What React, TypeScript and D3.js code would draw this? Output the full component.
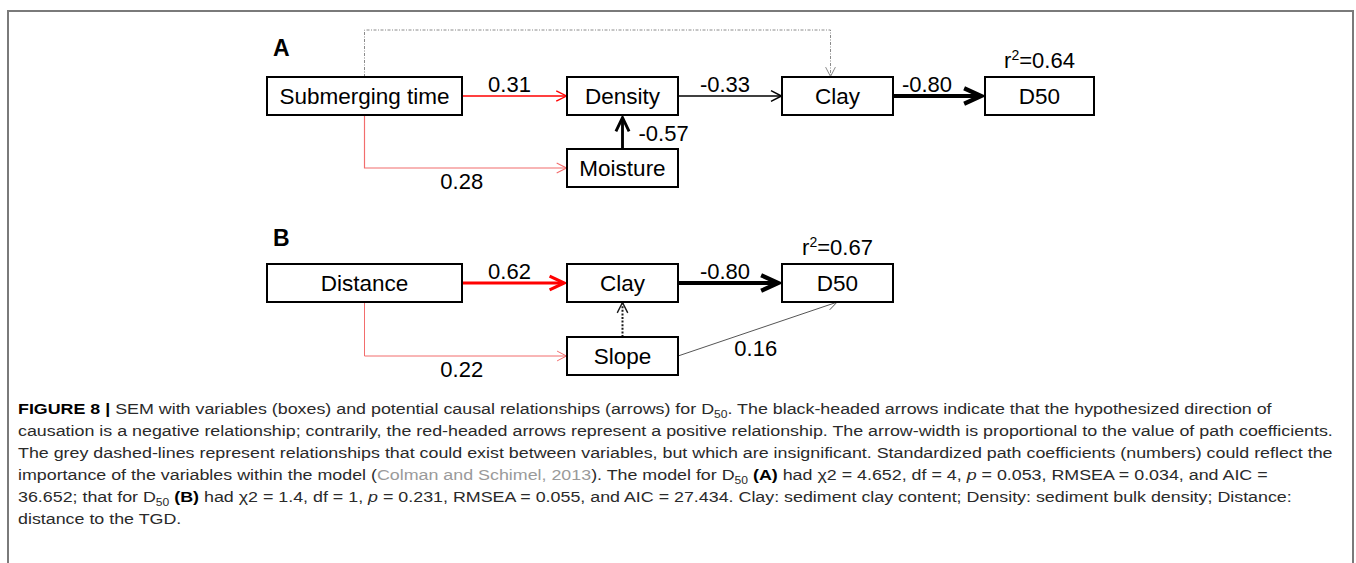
import React from "react";
import * as d3 from "d3";

// nodes of the two path models
const nodeIds = ["subA", "densA", "moisA", "clayA", "d50A", "distB", "clayB", "slopeB", "d50B"];
const nodeLabels = ["Submerging time", "Density", "Moisture", "Clay", "D50", "Distance", "Clay", "Slope", "D50"];
const nodePanels = ["A", "A", "A", "A", "A", "B", "B", "B", "B"];
const nodeCols = [0, 1, 1, 2, 3, 0, 1, 1, 2];
const nodeRows = [0, 0, 1, 0, 0, 0, 0, 1, 0];

// explained variance of D50
const r2Nodes = ["d50A", "d50B"];
const r2Values = [0.64, 0.67];

// paths (null = insignificant, drawn dashed)
const edgeFrom = ["subA", "subA", "moisA", "densA", "clayA", "subA", "distB", "distB", "slopeB", "clayB", "slopeB"];
const edgeTo = ["densA", "moisA", "densA", "clayA", "d50A", "clayA", "clayB", "slopeB", "clayB", "d50B", "d50B"];
const edgeCoef: (number | null)[] = [0.31, 0.28, -0.57, -0.33, -0.8, null, 0.62, 0.22, null, -0.8, 0.16];

const panelLabels = ["A", "B"];

// caption, one entry per printed line
type Seg = { t: string; b?: boolean; i?: boolean; sub?: boolean; grey?: boolean };
const captionLines: Seg[][] = [
  [
    { t: "FIGURE 8 | ", b: true },
    { t: "SEM with variables (boxes) and potential causal relationships (arrows) for D" },
    { t: "50", sub: true },
    { t: ". The black-headed arrows indicate that the hypothesized direction of" },
  ],
  [{ t: "causation is a negative relationship; contrarily, the red-headed arrows represent a positive relationship. The arrow-width is proportional to the value of path coefficients." }],
  [{ t: "The grey dashed-lines represent relationships that could exist between variables, but which are insignificant. Standardized path coefficients (numbers) could reflect the" }],
  [
    { t: "importance of the variables within the model (" },
    { t: "Colman and Schimel, 2013", grey: true },
    { t: "). The model for D" },
    { t: "50", sub: true },
    { t: " " },
    { t: "(A)", b: true },
    { t: " had χ2 = 4.652, df = 4, " },
    { t: "p", i: true },
    { t: " = 0.053, RMSEA = 0.034, and AIC =" },
  ],
  [
    { t: "36.652; that for D" },
    { t: "50", sub: true },
    { t: " " },
    { t: "(B)", b: true },
    { t: " had χ2 = 1.4, df = 1, " },
    { t: "p", i: true },
    { t: " = 0.231, RMSEA = 0.055, and AIC = 27.434. Clay: sediment clay content; Density: sediment bulk density; Distance:" },
  ],
  [{ t: "distance to the TGD." }],
];

export default function App() {
  const W = 1356;
  const H = 563;
  const boxH = 38;

  const colX = d3.scaleOrdinal<number, number>().domain([0, 1, 2, 3]).range([364.5, 622.5, 837.5, 1039.5]);
  const colW = d3.scaleOrdinal<number, number>().domain([0, 1, 2, 3]).range([195, 111, 111, 109]);
  const rowY = d3.scaleOrdinal<string, number>().domain(["A0", "A1", "B0", "B1"]).range([96, 168, 283, 356]);

  const widthScale = d3.scaleLinear().domain([0.25, 0.8]).range([1, 4.2]).clamp(true);
  const posColor = d3.scaleLinear<string>().domain([0.28, 0.31]).range(["#f26d6d", "#ff0000"]).clamp(true);

  const nodes = nodeIds.map((id, i) => {
    const cx = colX(nodeCols[i]);
    const cy = rowY(nodePanels[i] + nodeRows[i]);
    const w = colW(nodeCols[i]);
    return { id, label: nodeLabels[i], panel: nodePanels[i], cx, cy, w, x0: cx - w / 2, x1: cx + w / 2, y0: cy - boxH / 2, y1: cy + boxH / 2 };
  });
  const byId = new Map(nodes.map((n) => [n.id, n]));

  const line = d3.line();

  const edges = edgeFrom.map((f, i) => {
    const s = byId.get(f)!;
    const t = byId.get(edgeTo[i])!;
    const v = edgeCoef[i];
    let pts: [number, number][];
    let lab: [number, number] = [0, 0];
    let anchor = "middle";
    if (s.cy === t.cy && v !== null) {
      pts = [[s.x1, s.cy], [t.x0, s.cy]];
      const shift = t.id === "d50A" ? -12 : -5;
      lab = [(s.x1 + t.x0) / 2 + shift, s.cy - 4.5];
    } else if (s.cx === t.cx) {
      pts = [[s.cx, s.y0], [s.cx, t.y1]];
      lab = [s.cx + 16, (s.y0 + t.y1) / 2 + 9];
      anchor = "start";
    } else if (v === null) {
      const top = s.y0 - 47;
      pts = [[s.cx, s.y0], [s.cx, top], [t.cx - 7, top], [t.cx - 7, t.y0]];
    } else if (t.cy > s.cy) {
      pts = [[s.cx, s.y1], [s.cx, t.cy], [t.x0, t.cy]];
      lab = [(s.cx + t.x0) / 2 - 4, t.cy + 21];
    } else {
      pts = [[s.x1, s.cy], [t.cx, t.y1]];
      lab = [(s.x1 + t.cx) / 2 - 2, (s.cy + t.y1) / 2 + 27];
    }
    let color: string;
    let sw: number;
    let dash: string | undefined;
    if (v === null) {
      color = s.panel === "A" ? "#8a8a8a" : "#1a1a1a";
      sw = s.panel === "A" ? 1 : 2;
      dash = s.panel === "A" ? "3,1.5,1,1.5" : "2,1.6";
    } else if (t.id === "d50B" && s.id === "slopeB") {
      color = "#555";
      sw = 1;
    } else {
      color = v > 0 ? posColor(v) : "#000";
      sw = widthScale(Math.abs(v));
    }
    // arrow head
    const [px, py] = pts[pts.length - 2];
    const [ex, ey] = pts[pts.length - 1];
    const len = Math.hypot(ex - px, ey - py);
    const ux = (ex - px) / len;
    const uy = (ey - py) / len;
    const hsw = v === null ? Math.min(sw, 1.4) : sw;
    const back = hsw > 1.5 ? hsw * 0.9 : 0.5;
    const tx = ex - ux * back;
    const ty = ey - uy * back;
    const hl = 7 + 2.4 * hsw;
    const hw = 4 + 0.9 * hsw;
    const head: [number, number][] = [
      [tx - ux * hl - uy * hw, ty - uy * hl + ux * hw],
      [tx, ty],
      [tx - ux * hl + uy * hw, ty - uy * hl - ux * hw],
    ];
    const shaft = pts.slice();
    shaft[shaft.length - 1] = [tx - ux * hsw * 0.6, ty - uy * hsw * 0.6];
    return { i, v, shaft, head, color, sw, hsw, dash, lab, anchor };
  });

  const fontDiag = "'Liberation Sans', Arial, sans-serif";

  return (
    <div style={{ position: "absolute", left: 0, top: 0 }}>
      <svg width={W} height={H} style={{ display: "block", background: "#fff" }}>
        {/* frame */}
        <path d={`M8,${H + 10} V11 H1353 V${H + 10}`} fill="none" stroke="#7a7a7a" strokeWidth={2} />

        {panelLabels.map((p, i) => (
          <text key={p} x={273} y={i === 0 ? 56 : 246} fontFamily={fontDiag} fontWeight="bold" fontSize={23} fill="#000">
            {p}
          </text>
        ))}

        {edges.map((e) => (
          <g key={e.i}>
            <path d={line(e.shaft) || ""} fill="none" stroke={e.color} strokeWidth={e.sw} strokeDasharray={e.dash} />
            <path d={line(e.head) || ""} fill="none" stroke={e.color} strokeWidth={e.hsw} strokeLinejoin="miter" />
            {e.v !== null && (
              <text x={e.lab[0]} y={e.lab[1]} textAnchor={e.anchor} fontFamily={fontDiag} fontSize={22} fill="#000">
                {(e.v < 0 ? "-" : "") + Math.abs(e.v).toFixed(2)}
              </text>
            )}
          </g>
        ))}

        {nodes.map((n) => (
          <g key={n.id}>
            <rect x={n.x0} y={n.y0} width={n.w} height={boxH} fill="#fff" stroke="#000" strokeWidth={2} />
            <text x={n.cx} y={n.cy + 8} textAnchor="middle" fontFamily={fontDiag} fontSize={22.5} fill="#000">
              {n.label}
            </text>
          </g>
        ))}

        {r2Nodes.map((id, i) => {
          const n = byId.get(id)!;
          return (
            <text key={id} x={n.cx} y={n.y0 - 9} textAnchor="middle" fontFamily={fontDiag} fontSize={22} fill="#000">
              r<tspan fontSize={14} dy={-8}>2</tspan>
              <tspan dy={8}>={r2Values[i].toFixed(2)}</tspan>
            </text>
          );
        })}

        {/* caption: the journal face runs wider than Arial */}
        <g transform="translate(18,0) scale(1.152,1)">
          {captionLines.map((segs, li) => {
            const out: React.ReactNode[] = [];
            let shifted = false;
            segs.forEach((s, si) => {
              let dy: number | undefined;
              if (s.sub && !shifted) {
                dy = 4;
                shifted = true;
              } else if (!s.sub && shifted) {
                dy = -4;
                shifted = false;
              }
              out.push(
                <tspan
                  key={si}
                  dy={dy}
                  fontWeight={s.b ? "bold" : undefined}
                  fontStyle={s.i ? "italic" : undefined}
                  fontSize={s.sub ? 10.5 : undefined}
                  fill={s.grey ? "#9a9a9a" : s.b ? "#000" : undefined}
                >
                  {s.t}
                </tspan>
              );
            });
            return (
              <text
                key={li}
                x={0}
                y={414 + li * 22}
                fontFamily={fontDiag}
                fontSize={15.5}
                fill="#2a2a2a"
                style={{ whiteSpace: "pre" }}
              >
                {out}
              </text>
            );
          })}
        </g>
      </svg>
    </div>
  );
}
